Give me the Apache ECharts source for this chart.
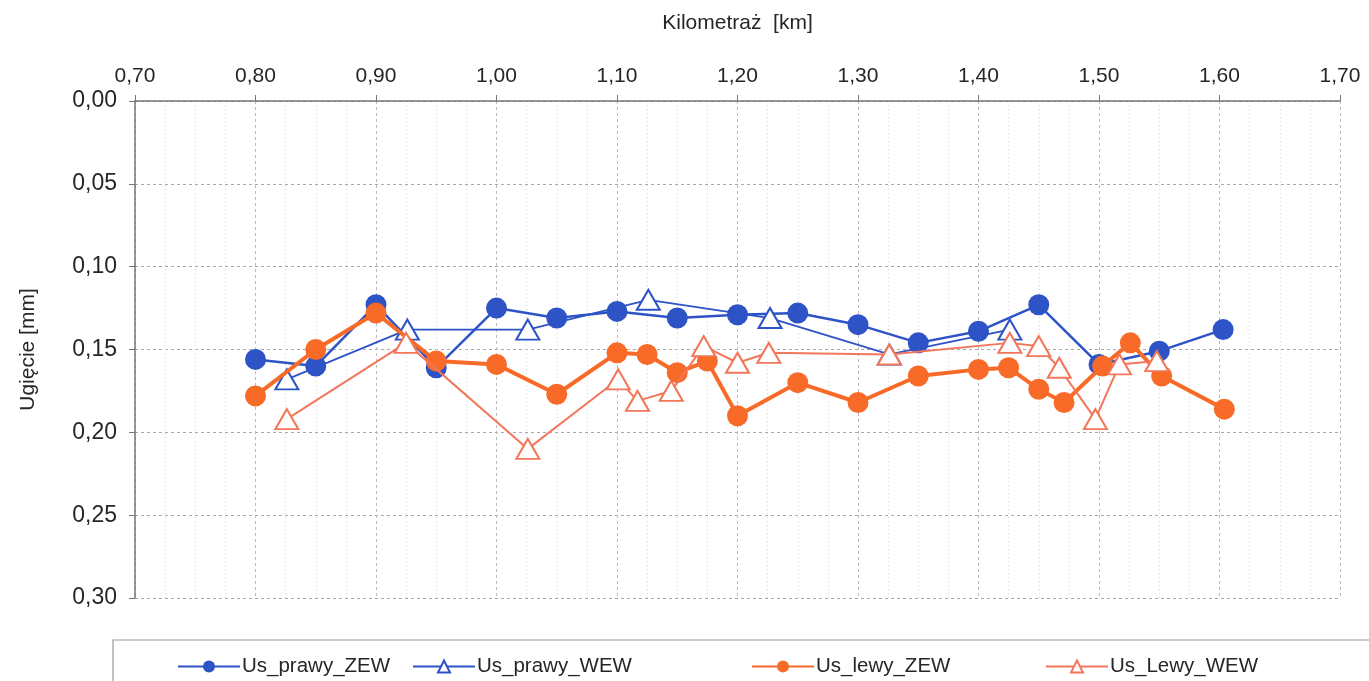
<!DOCTYPE html>
<html>
<head>
<meta charset="utf-8">
<title>Ugięcie</title>
<script src="https://cdn.jsdelivr.net/npm/echarts@6/dist/echarts.min.js"></script>
<style>
    html, body {margin: 0; padding: 0; background: #fff;}
    #chart {width: 1369px; height: 681px;}
</style>
</head>
<body>
<div id="chart"></div>
<script>
    // kilometraż [km] i ugięcie [mm]
    var prawyZewKm = [0.80, 0.85, 0.90, 0.95, 1.00, 1.05, 1.10, 1.15, 1.20, 1.25, 1.30, 1.35, 1.40, 1.45, 1.50, 1.55, 1.603];
    var prawyZew   = [0.156, 0.160, 0.123, 0.161, 0.125, 0.131, 0.127, 0.131, 0.129, 0.128, 0.135, 0.146, 0.139, 0.123, 0.159, 0.151, 0.138];

    var prawyWewKm = [0.826, 0.926, 1.026, 1.126, 1.227, 1.326, 1.426];
    var prawyWew   = [0.168, 0.138, 0.138, 0.120, 0.131, 0.153, 0.138];

    var lewyZewKm = [0.80, 0.85, 0.90, 0.95, 1.00, 1.05, 1.10, 1.125, 1.15, 1.175, 1.20, 1.25, 1.30, 1.35, 1.40, 1.425, 1.45, 1.471, 1.503, 1.526, 1.552, 1.604];
    var lewyZew   = [0.178, 0.150, 0.128, 0.157, 0.159, 0.177, 0.152, 0.153, 0.164, 0.157, 0.190, 0.170, 0.182, 0.166, 0.162, 0.161, 0.174, 0.182, 0.160, 0.146, 0.166, 0.186];

    var lewyWewKm = [0.826, 0.925, 1.026, 1.101, 1.117, 1.145, 1.172, 1.200, 1.226, 1.326, 1.426, 1.450, 1.467, 1.497, 1.517, 1.548];
    var lewyWew   = [0.192, 0.146, 0.210, 0.168, 0.181, 0.175, 0.148, 0.158, 0.152, 0.153, 0.146, 0.148, 0.161, 0.192, 0.159, 0.157];

    var names = ['Us_prawy_ZEW', 'Us_prawy_WEW', 'Us_lewy_ZEW', 'Us_Lewy_WEW'];

    var BLUE = '#2d53c6';
    var ORANGE = '#f76a28';
    var ORANGE2 = '#f2775a';
    var FONT = 'Liberation Sans';
    var TXT = '#262626';

    function pary(xs, ys) {
        var out = [];
        for (var i = 0; i < xs.length; i++) {
            out.push([xs[i], ys[i]]);
        }
        return out;
    }

    function przecinek(v) {
        return v.toFixed(2).replace('.', ',');
    }

    var myChart = echarts.init(document.getElementById('chart'), null, {renderer: 'canvas'});

    // osobna legenda dla kazdej serii, zeby trafic w pozycje z oryginalu
    var legendLeft = [172, 407, 746, 1040];
    var legends = [];
    for (var i = 0; i < names.length; i++) {
        legends.push({
            data: [names[i]],
            left: legendLeft[i],
            top: 651,
            itemWidth: 62,
            itemHeight: 15,
            itemGap: 0,
            textStyle: {fontFamily: FONT, fontSize: 20.5, color: TXT, padding: [0, 0, 0, -3]}
        });
    }

    var option = {
        backgroundColor: '#fff',
        animation: false,
        grid: {
            left: 135,
            right: 29,
            top: 101,
            bottom: 83
        },
        legend: legends,
        graphic: [{
            type: 'rect',
            shape: {x: 113, y: 640, width: 1262, height: 50},
            style: {fill: 'none', stroke: '#999', lineWidth: 1.2},
            silent: true
        }],
        xAxis: {
            type: 'value',
            position: 'top',
            min: 0.7,
            max: 1.7,
            interval: 0.1,
            name: 'Kilometraż  [km]',
            nameLocation: 'middle',
            nameGap: 67,
            nameTextStyle: {fontFamily: FONT, fontSize: 21, color: TXT},
            axisLine: {onZero: false, lineStyle: {color: '#777', width: 1.5}},
            axisTick: {show: true, inside: false, length: 6, lineStyle: {color: '#777'}},
            axisLabel: {
                margin: 14,
                fontFamily: FONT,
                fontSize: 21,
                color: TXT,
                formatter: przecinek
            },
            splitLine: {show: true, lineStyle: {color: '#bbb', type: [3, 3], width: 1}},
            minorTick: {show: false, splitNumber: 4},
            minorSplitLine: {show: true, lineStyle: {color: '#d4d4d4', type: [1, 3], width: 1}}
        },
        yAxis: {
            type: 'value',
            inverse: true,
            min: 0,
            max: 0.3,
            interval: 0.05,
            name: 'Ugięcie [mm]',
            nameLocation: 'middle',
            nameGap: 96,
            nameRotate: 90,
            nameTextStyle: {fontFamily: FONT, fontSize: 21, color: TXT},
            axisLine: {show: true, onZero: false, lineStyle: {color: '#777', width: 1.5}},
            axisTick: {show: true, inside: false, length: 6, lineStyle: {color: '#777'}},
            axisLabel: {
                margin: 18,
                fontFamily: FONT,
                fontSize: 23,
                color: TXT,
                formatter: przecinek
            },
            splitLine: {show: true, lineStyle: {color: '#aaa', type: [3, 3], width: 1}}
        },
        series: [
            {
                name: names[0],
                type: 'line',
                data: pary(prawyZewKm, prawyZew),
                symbol: 'circle',
                symbolSize: 21,
                color: BLUE,
                lineStyle: {color: BLUE, width: 2.5},
                itemStyle: {color: BLUE},
                z: 2
            },
            {
                name: names[1],
                type: 'line',
                data: pary(prawyWewKm, prawyWew),
                symbol: 'triangle',
                symbolSize: [23, 20],
                color: BLUE,
                lineStyle: {color: BLUE, width: 1.8},
                itemStyle: {color: '#fff', borderColor: BLUE, borderWidth: 2},
                z: 3
            },
            {
                name: names[2],
                type: 'line',
                data: pary(lewyZewKm, lewyZew),
                symbol: 'circle',
                symbolSize: 21,
                color: ORANGE,
                lineStyle: {color: ORANGE, width: 4},
                itemStyle: {color: ORANGE},
                z: 4
            },
            {
                name: names[3],
                type: 'line',
                data: pary(lewyWewKm, lewyWew),
                symbol: 'triangle',
                symbolSize: [23, 20],
                color: ORANGE2,
                lineStyle: {color: ORANGE2, width: 2},
                itemStyle: {color: '#fff', borderColor: ORANGE2, borderWidth: 2},
                z: 5
            }
        ]
    };

    myChart.setOption(option);
</script>
</body>
</html>
